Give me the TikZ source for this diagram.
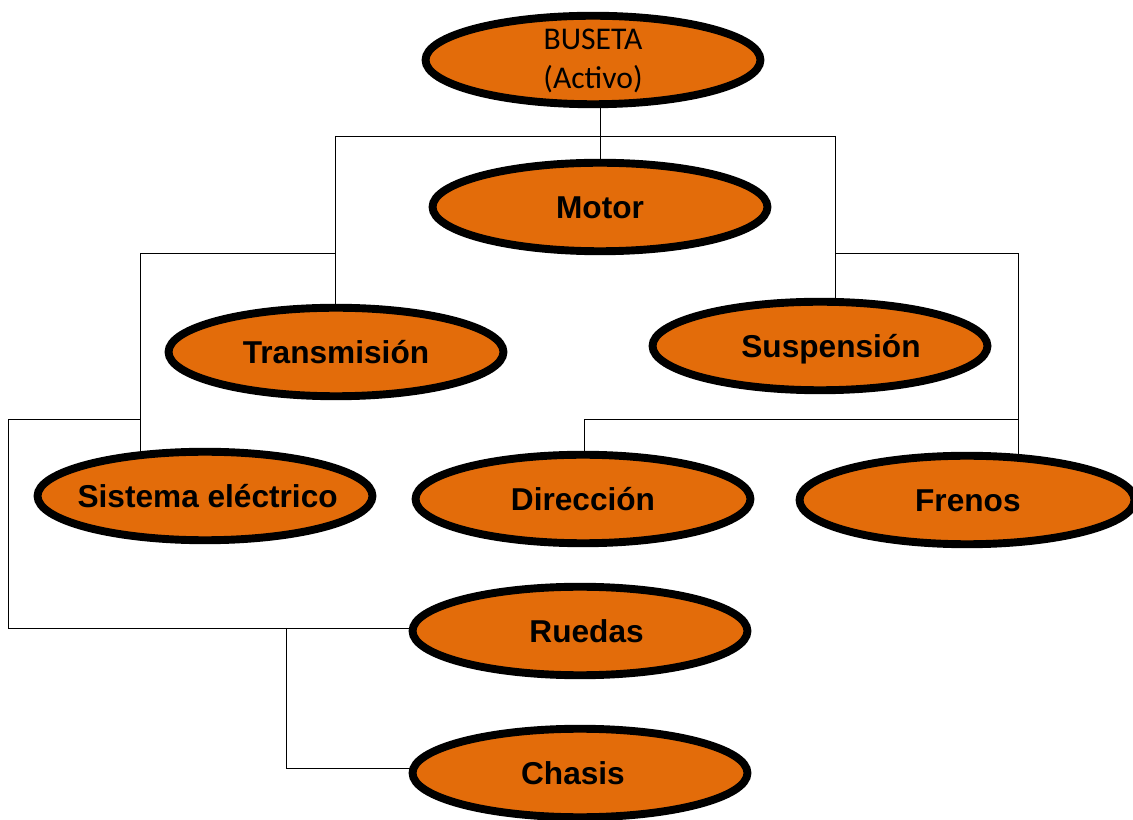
\documentclass[tikz,border=0pt]{standalone}
\usepackage{fontspec}
\setmainfont{Liberation Sans}
\newfontfamily\calibrifont{Carlito}
\usetikzlibrary{shapes.geometric,backgrounds}
\definecolor{partorange}{HTML}{E36C0A}

% #1 horizontal nudge of the text, #2 text
\newcommand\partlabel[2]{\makebox[0pt]{\hspace*{#1}#2}}

\tikzset{part/.style={ellipse,draw=black,line width=4.5pt,fill=partorange,
    minimum width=6.7cm,minimum height=1.77cm,inner sep=0pt,
    font=\bfseries\fontsize{18}{22}\selectfont,text height=12.9pt,text depth=0pt},
  link/.style={line width=0.8pt,black}}

\begin{document}
\begin{tikzpicture}[x=0.02cm,y=-0.02cm]
\useasboundingbox (0,0) rectangle (1133,820);

%the asset and its parts
\node[part,font=\calibrifont\fontsize{18}{22}\selectfont,text height=0pt] (buseta) at (593,60)
  {\makebox[0pt]{\raisebox{5.7pt}{\begin{tabular}[t]{@{}c@{}}BUSETA\\(Activo)\end{tabular}}}};
\node[part] (motor) at (600,207) {\partlabel{0pt}{Motor}};
\node[part] (transmision) at (336,352) {\partlabel{0pt}{Transmisión}};
\node[part] (suspension) at (820,346) {\partlabel{12.5pt}{Suspensión}};
\node[part] (sistema) at (205,496) {\partlabel{3pt}{Sistema eléctrico}};
\node[part] (direccion) at (583,499) {\partlabel{0pt}{Dirección}};
\node[part] (frenos) at (967,500) {\partlabel{1pt}{Frenos}};
\node[part] (ruedas) at (580,631) {\partlabel{7.5pt}{Ruedas}};
\node[part] (chasis) at (580,773) {\partlabel{-8pt}{Chasis}};

%bends of the tree lines
\coordinate (t1) at (335,136);
\coordinate (t2) at (835,136);
\coordinate (l1) at (140,253);
\coordinate (l2) at (8,419);
\coordinate (l3) at (8,628);
\coordinate (l4) at (286,628);
\coordinate (l5) at (286,768);
\coordinate (r1) at (1018,253);
\coordinate (r2) at (584,419);

%tree lines, behind the ellipses
\begin{scope}[on background layer,link]
\draw (motor |- buseta) -- (motor);
\draw (t1) -- (t2);
\draw (t1) -- (t1 |- transmision);
\draw (t2) -- (t2 |- suspension);
\draw (l1 -| t1) -- (l1) -- (l1 |- sistema);
\draw (l2 -| l1) -- (l2) -- (l3) -- (l3 -| ruedas);
\draw (l4) -- (l5) -- (l5 -| chasis);
\draw (r1 -| t2) -- (r1) -- (r1 |- frenos);
\draw (r2 -| r1) -- (r2) -- (r2 |- direccion);
\end{scope}
\end{tikzpicture}
\end{document}
